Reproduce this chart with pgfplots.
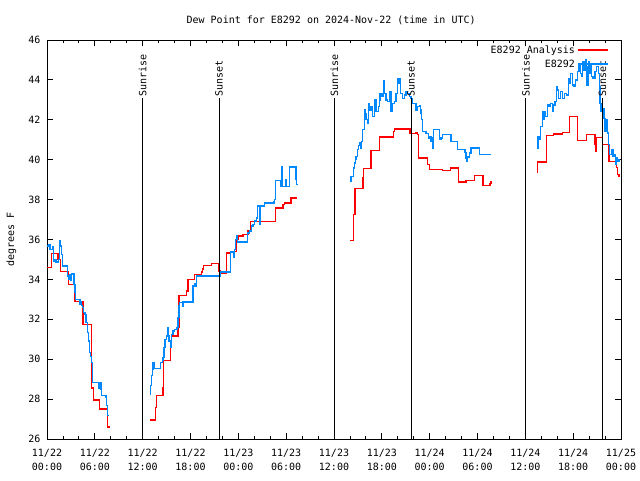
\documentclass[border=0pt]{standalone}
\usepackage{fontspec}
\setmainfont{DejaVu Sans Mono}
\usepackage{pgfplots}
\pgfplotsset{compat=1.18}
\definecolor{myred}{RGB}{255,0,0}
\definecolor{myblue}{RGB}{0,136,255}
\begin{document}
\begin{tikzpicture}
\useasboundingbox (-47pt,-41pt) rectangle (593pt,439pt);
\begin{axis}[
  scale only axis, width=574pt, height=399pt,
  at={(0pt,0pt)}, anchor=south west,
  xmin=0, xmax=72, ymin=26, ymax=46,
  xtick={0,6,...,72},
  xticklabels={{11/22\\00:00},{11/22\\06:00},{11/22\\12:00},{11/22\\18:00},{11/23\\00:00},{11/23\\06:00},{11/23\\12:00},{11/23\\18:00},{11/24\\00:00},{11/24\\06:00},{11/24\\12:00},{11/24\\18:00},{11/25\\00:00}},
  xticklabel style={align=center, font=\fontsize{10}{14}\selectfont, yshift=-7pt},
  yticklabel style={font=\fontsize{10}{12}\selectfont, xshift=-3pt},
  minor x tick num=2,
  ytick={26,28,...,46},
  tick align=inside,
  major tick length=6pt, minor tick length=3pt,
  axis line style={line width=0.8pt},
  every tick/.style={black, line width=0.8pt},
  /pgf/number format/assume math mode=true,
  title={Dew Point for E8292 on 2024-Nov-22 (time in UTC)},
  title style={font=\fontsize{10}{12}\selectfont, at={(axis description cs:0.495,1)}, anchor=center, yshift=14pt},
  ylabel={degrees F},
  ylabel style={font=\fontsize{10}{12}\selectfont, at={(axis description cs:-0.062,0.5)}, anchor=center},
  legend style={draw=none, fill=none, at={(1,1)}, anchor=north east, xshift=-9pt, yshift=-1.5pt, font=\fontsize{10}{12}\selectfont, row sep=1pt},
  legend cell align=right,
  legend plot pos=right,
]
% ---- segment 1
\addplot[const plot, myred, line width=1.4pt, forget plot] coordinates {
(0,34.6) (0.6,35.3) (1.4,35.0) (1.7,34.4) (2.7,33.75) (3.5,32.9) (4.5,31.75) (5.6,28.55) (5.8,27.95) (6.6,27.5) (7.6,26.6) (7.9,26.6)};
\addplot[const plot, myblue, line width=1.4pt, forget plot] coordinates {
(0,35.67) (0.17,35.75) (0.38,35.5) (0.71,35.63) (0.79,34.92) (1.0,35.0) (1.13,34.88) (1.42,35.0) (1.54,35.92) (1.71,35.67) (1.84,35.25) (1.96,34.67) (2.55,34.17) (2.67,34.0) (2.8,34.25) (2.96,33.97) (3.09,34.28) (3.38,33.75) (3.5,33.33) (3.59,33.0) (4.13,32.75) (4.22,32.87) (4.34,32.7) (4.47,32.58) (4.55,32.33) (4.76,32.25) (4.88,31.83) (5.05,31.33) (5.18,30.92) (5.3,30.33) (5.47,30.13) (5.59,29.83) (5.72,28.83) (6.43,28.53) (6.64,28.8) (6.76,28.5) (6.84,28.17) (7.39,28.08) (7.47,27.67) (7.6,27.17) (7.8,27.17)};
% ---- segment 2
\addplot[const plot, myred, line width=1.4pt, forget plot] coordinates {
(12.9,26.95) (13.6,27.58) (13.73,28.17) (14.56,28.58) (14.65,29.92) (15.49,30.7) (15.61,31.17) (16.45,31.58) (16.57,33.2) (17.49,33.42) (17.7,34.0) (18.53,34.25) (19.37,34.37) (19.5,34.53) (19.66,34.7) (20.63,34.8) (21.54,34.42) (21.79,34.33) (22.5,35.33) (23.04,35.4) (23.75,36.0) (23.96,36.17) (24.58,36.25) (25.2,36.42) (25.54,36.9) (28.67,37.58) (29.59,37.75) (29.8,37.83) (30.63,38.08) (31.39,38.08)};
\addplot[const plot, myblue, line width=1.4pt, forget plot] coordinates {
(12.9,28.25) (12.98,28.67) (13.1,29.17) (13.23,29.5) (13.32,29.83) (13.4,29.53) (14.23,29.83) (14.48,29.92) (14.56,30.08) (14.69,30.58) (14.82,31.0) (14.98,31.17) (15.11,31.58) (15.19,31.17) (15.32,30.92) (15.49,30.58) (15.61,31.25) (15.82,31.42) (16.03,31.5) (16.32,31.58) (16.45,32.08) (16.57,32.67) (16.65,32.83) (16.99,32.67) (17.07,32.87) (18.32,33.67) (18.53,33.8) (18.66,33.67) (18.74,34.17) (21.79,34.37) (23.0,35.37) (23.41,35.13) (23.54,35.5) (23.63,36.0) (23.75,36.17) (23.88,35.87) (25.13,36.33) (25.42,36.42) (25.63,36.67) (25.84,36.75) (26.04,36.92) (26.25,37.08) (26.38,37.67) (26.71,36.75) (26.75,37.67) (27.3,37.83) (28.46,37.9) (28.55,38.0) (28.67,38.97) (29.3,38.67) (29.5,39.63) (29.55,38.67) (29.92,39.0) (30.0,38.67) (30.4,39.63) (31.1,39.63) (31.15,39.0) (31.2,39.63) (31.3,38.75) (31.39,38.75)};
% ---- segment 3
\addplot[const plot, myred, line width=1.4pt, forget plot] coordinates {
(38.06,35.95) (38.48,37.25) (38.61,38.55) (39.62,39.08) (39.69,39.55) (40.65,40.47) (41.69,41.13) (43.49,41.42) (43.62,41.53) (45.54,41.3) (46.28,41.37) (46.5,41.25) (46.62,40.08) (47.75,39.75) (47.95,39.5) (49.62,39.45) (50.58,39.58) (51.63,38.88) (52.55,38.95) (53.63,39.2) (54.67,38.7) (55.55,38.8) (55.68,38.95)};
\addplot[const plot, myblue, line width=1.4pt, forget plot] coordinates {
(38.06,38.92) (38.15,39.17) (38.44,39.58) (38.56,39.83) (38.69,40.0) (38.77,40.17) (38.98,40.5) (39.1,40.7) (39.19,40.87) (39.31,40.58) (39.44,40.92) (39.61,41.5) (39.82,42.5) (39.94,42.33) (40.02,42.0) (40.23,41.83) (40.36,42.83) (40.44,42.5) (40.65,42.67) (40.78,42.5) (40.86,42.17) (41.06,43.0) (41.27,42.42) (41.61,42.67) (41.69,43.0) (41.78,43.33) (42.03,43.17) (42.19,43.97) (42.32,43.33) (42.53,43.0) (42.74,42.92) (42.95,43.42) (43.16,42.42) (43.37,42.83) (43.57,42.92) (43.78,43.33) (44.0,44.08) (44.12,43.83) (44.2,44.08) (44.33,43.33) (44.62,43.08) (44.83,43.25) (45.03,43.42) (45.24,43.33) (45.45,43.17) (45.66,43.08) (45.87,42.83) (46.29,42.5) (46.41,42.67) (46.7,42.7) (46.83,42.5) (46.91,42.33) (47.0,42.0) (47.12,41.42) (47.54,41.3) (47.83,41.08) (47.95,41.17) (48.16,40.92) (48.25,41.08) (48.37,40.58) (48.5,41.5) (49.21,41.0) (49.42,41.08) (49.62,41.25) (50.67,40.92) (51.5,40.5) (52.42,40.37) (52.55,40.08) (52.67,39.92) (52.75,40.13) (52.96,40.33) (53.17,40.58) (54.22,40.25) (55.68,40.25)};
% ---- segment 4
\addplot[const plot, myred, line width=1.4pt, forget plot] coordinates {
(61.5,39.37) (61.52,39.88) (62.65,41.22) (63.52,41.28) (64.65,41.37) (65.57,42.17) (66.53,40.97) (67.66,41.25) (68.74,40.75) (68.82,40.42) (68.88,40.75) (68.92,41.12) (69.66,40.75) (70.5,39.92) (71.42,39.6) (71.54,39.25) (71.74,39.17) (71.9,39.17)};
\addplot[const plot, myblue, line width=1.4pt, forget plot] coordinates {
(61.5,40.58) (61.58,41.17) (61.7,41.0) (61.94,41.67) (62.14,42.42) (62.27,42.0) (62.39,42.42) (62.56,42.17) (62.77,42.75) (62.98,42.67) (63.19,42.83) (63.4,42.42) (63.52,42.75) (63.73,42.92) (63.9,43.67) (64.03,43.5) (64.15,43.08) (64.44,43.42) (64.65,43.08) (64.94,43.33) (65.15,43.25) (65.4,44.08) (65.57,43.83) (65.69,44.33) (65.9,43.75) (66.11,43.67) (66.32,44.0) (66.53,44.42) (66.74,44.75) (66.95,44.33) (67.07,44.17) (67.16,44.92) (67.37,44.5) (67.57,45.0) (67.7,43.75) (67.87,44.67) (67.99,44.92) (68.07,44.33) (68.2,44.75) (68.32,44.17) (68.49,44.08) (68.74,44.42) (68.91,44.67) (69.16,44.33) (69.28,43.67) (69.36,42.83) (69.49,42.42) (69.66,42.58) (69.86,42.08) (69.99,41.42) (70.16,42.0) (70.28,41.33) (70.41,40.75) (70.57,40.25) (70.82,40.5) (70.99,40.17) (71.12,40.25) (71.33,39.75) (71.45,40.08) (71.58,39.92) (71.74,40.0) (71.9,40.0)};
% ---- sunrise / sunset
\addplot[black, line width=0.8pt, forget plot] coordinates {(12.0,26) (12.0,43.1)};
\addplot[black, line width=0.8pt, forget plot] coordinates {(21.58,26) (21.58,43.1)};
\addplot[black, line width=0.8pt, forget plot] coordinates {(36.05,26) (36.05,43.1)};
\addplot[black, line width=0.8pt, forget plot] coordinates {(45.65,26) (45.65,43.1)};
\addplot[black, line width=0.8pt, forget plot] coordinates {(60.07,26) (60.07,43.1)};
\addplot[black, line width=0.8pt, forget plot] coordinates {(69.68,26) (69.68,43.1)};
\node[rotate=90, anchor=west, inner sep=1pt, font=\fontsize{10}{12}\selectfont] at (axis cs:12.0,43.1) {Sunrise};
\node[rotate=90, anchor=west, inner sep=1pt, font=\fontsize{10}{12}\selectfont] at (axis cs:21.58,43.1) {Sunset};
\node[rotate=90, anchor=west, inner sep=1pt, font=\fontsize{10}{12}\selectfont] at (axis cs:36.05,43.1) {Sunrise};
\node[rotate=90, anchor=west, inner sep=1pt, font=\fontsize{10}{12}\selectfont] at (axis cs:45.65,43.1) {Sunset};
\node[rotate=90, anchor=west, inner sep=1pt, font=\fontsize{10}{12}\selectfont] at (axis cs:60.07,43.1) {Sunrise};
\node[rotate=90, anchor=west, inner sep=1pt, font=\fontsize{10}{12}\selectfont] at (axis cs:69.68,43.1) {Sunset};
% ---- legend
\addlegendimage{legend image code/.code={\draw[draw=myred, line width=1.8pt] (0pt,0pt) -- (30pt,0pt);}}
\addlegendentry{E8292 Analysis}
\addlegendimage{legend image code/.code={\draw[draw=myblue, line width=1.8pt] (0pt,0pt) -- (30pt,0pt);}}
\addlegendentry{E8292}
\end{axis}
\end{tikzpicture}
\end{document}
